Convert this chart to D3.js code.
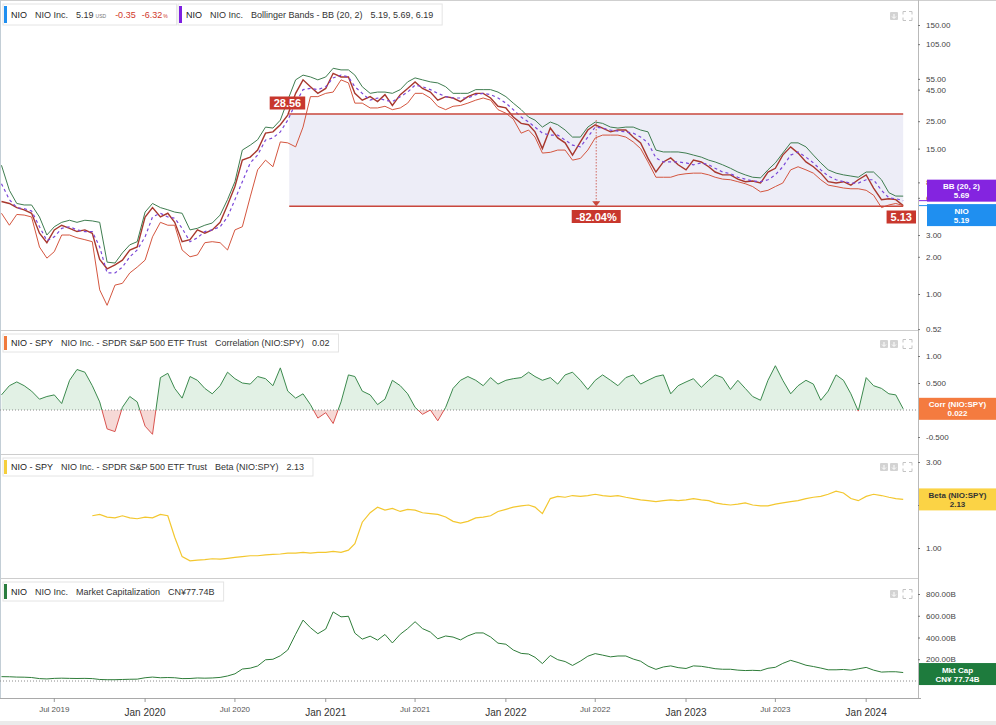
<!DOCTYPE html>
<html><head><meta charset="utf-8">
<script src="https://cdn.jsdelivr.net/npm/d3@7"></script>
<style>
html,body{margin:0;padding:0;background:#fff;}
svg{display:block;font-family:"Liberation Sans",Arial,sans-serif;}
</style></head><body>
<svg id="chart" width="996" height="725"></svg>
<script>
// ---------------- DATA ----------------
const dateStrings = ["2019-03-16",
"2019-04-01","2019-04-16","2019-05-01","2019-05-16","2019-06-01","2019-06-16","2019-07-01","2019-07-16","2019-08-01","2019-08-16","2019-09-01","2019-09-16","2019-10-01","2019-10-16","2019-11-01","2019-11-16","2019-12-01","2019-12-16",
"2020-01-01","2020-01-16","2020-02-01","2020-02-16","2020-03-01","2020-03-16","2020-04-01","2020-04-16","2020-05-01","2020-05-16","2020-06-01","2020-06-16","2020-07-01","2020-07-16","2020-08-01","2020-08-16","2020-09-01","2020-09-16","2020-10-01","2020-10-16","2020-11-01","2020-11-16","2020-12-01","2020-12-16",
"2021-01-01","2021-01-16","2021-02-01","2021-02-16","2021-03-01","2021-03-16","2021-04-01","2021-04-16","2021-05-01","2021-05-16","2021-06-01","2021-06-16","2021-07-01","2021-07-16","2021-08-01","2021-08-16","2021-09-01","2021-09-16","2021-10-01","2021-10-16","2021-11-01","2021-11-16","2021-12-01","2021-12-16",
"2022-01-01","2022-01-16","2022-02-01","2022-02-16","2022-03-01","2022-03-16","2022-04-01","2022-04-16","2022-05-01","2022-05-16","2022-06-01","2022-06-16","2022-07-01","2022-07-16","2022-08-01","2022-08-16","2022-09-01","2022-09-16","2022-10-01","2022-10-16","2022-11-01","2022-11-16","2022-12-01","2022-12-16",
"2023-01-01","2023-01-16","2023-02-01","2023-02-16","2023-03-01","2023-03-16","2023-04-01","2023-04-16","2023-05-01","2023-05-16","2023-06-01","2023-06-16","2023-07-01","2023-07-16","2023-08-01","2023-08-16","2023-09-01","2023-09-16","2023-10-01","2023-10-16","2023-11-01","2023-11-16","2023-12-01","2023-12-16",
"2024-01-01","2024-01-16","2024-02-01","2024-02-16","2024-03-01","2024-03-16"];

const price = [5.6,5.4,5.0,4.8,4.5,3.1,2.6,3.3,3.6,3.4,
3.2,3.3,3.1,1.9,1.6,1.72,1.88,2.27,2.4,4.2,
5.0,4.2,4.5,3.8,2.65,2.75,3.3,3.1,3.3,3.8,
5.25,7.4,12.1,12.8,14.6,20,20.5,23.4,28,42,
54,47.5,42,46,61,57,57,42,37,39.5,
36,41,33.5,41,46,52,46,43,37,39.5,
38.5,36,39.5,42,42,38.5,33,32,27,24,
23.4,20.5,15,22,18.3,16.7,13.3,17,21.2,23.4,
22,20.5,21.2,21.2,18.6,16.7,12.5,9.7,11.7,12.6,
11.1,10.1,12.1,11.7,10.7,9.7,9.2,9.2,8.5,8.1,
8.2,7.9,9.7,10.4,13.3,15.5,13.8,11.7,10.7,9.5,
8.1,7.9,8.1,7.6,8.4,9.2,7.2,5.8,5.9,5.8,
5.19];

const bbUpper = [11.0,6.9,5.4,5.25,5.25,4.2,3.0,3.5,3.8,3.95,
3.8,3.95,3.9,3.8,1.81,1.78,2.15,2.5,2.65,4.6,
5.4,5.0,4.8,4.6,4.5,3.3,3.4,3.6,3.75,4.35,
5.8,8.1,14.6,16.0,17.7,22.4,22,25.5,37,54,
59,57,54,57,67,65,65,59,47.5,42,
43,43,42,45,52,56,54,52,51,47.5,
42,42,42,45,45,45,43,39.5,35,31,
27,25.5,22.4,24.6,23.4,21.2,18.6,18.6,22.4,24.6,
24,22.4,22,22.4,22.4,21.2,20.5,14.6,14.1,14.1,
14.1,13.8,13.3,12.8,12.1,11.7,11.1,10.4,9.7,9.2,
8.8,8.7,10.1,11.5,13.8,16.7,16.7,15.5,13.3,11.5,
10.1,9.5,9.2,9.0,8.8,9.7,9.7,8.4,6.6,6.2,
6.19];

const bbMiddle = [7.8,5.8,5.0,4.9,4.7,3.5,2.7,2.9,3.4,3.5,
3.3,3.2,3.2,2.4,1.48,1.48,1.65,2.0,2.27,2.9,
4.2,4.5,4.2,4.1,3.4,2.65,2.85,3.2,3.3,3.5,
4.2,5.8,8.1,11.5,13.3,17.6,18.3,20.5,25.5,35,
45,46,45,47.5,56,59,57,47.5,42,37,
38.5,37,36,39.5,43,49,47.5,45,42,39.5,
38.5,38.5,38.5,41,42,41,38.5,35,31,27,
24.6,22.4,20,19.3,19.3,17.6,16,15.5,18.6,22.4,
22,21.2,20.8,20.5,20,18.6,16.7,12.6,11.7,11.7,
11.7,11.5,11.1,11.5,11.1,10.4,9.7,9.4,8.8,8.5,
8.2,8.1,8.4,9.2,10.7,13.3,14.1,12.8,11.5,10.1,
9.0,8.4,8.1,7.9,7.9,8.4,8.4,6.9,6.0,5.9,
5.69];

const bbLower = [4.5,3.6,4.4,4.35,4.2,2.4,1.95,2.2,3.0,3.0,
2.85,2.75,2.65,1.08,0.81,1.18,1.22,1.48,1.65,1.88,
2.9,3.8,3.6,3.6,2.27,2.0,2.07,2.6,2.65,2.6,
2.27,3.3,3.5,6.1,10.1,12.1,10.7,17,16.7,15.5,
22.4,39.5,39.5,42,43,54,51,35,35,32,
32,33,31,32,35,42,42,38.5,33,31,
33,33.5,35,37,38.5,37,31,29,26,20,
21.2,18.6,13.8,14,14.6,14.6,12.1,12.5,14.6,18.3,
19.3,19.3,19.3,18.6,17,15,11.7,8.8,8.8,8.8,
9.2,9.4,9.5,9.5,9.2,8.8,8.5,8.4,8.1,7.8,
7.4,6.7,6.9,7.4,7.9,10.1,10.7,10.1,9.5,8.4,
7.6,7.4,7.2,7.1,7.1,6.9,6.3,5.0,5.25,5.4,
5.19];

const corr = [0.28,0.45,0.52,0.45,0.35,0.20,0.25,0.28,0.12,0.55,
0.75,0.70,0.45,0.15,-0.35,-0.40,0.05,0.25,0.15,-0.30,
-0.45,0.60,0.68,0.40,0.22,0.62,0.55,0.40,0.30,0.45,
0.70,0.58,0.50,0.48,0.62,0.58,0.45,0.78,0.35,0.22,
0.30,0.10,-0.15,-0.05,-0.25,0.15,0.65,0.62,0.35,0.28,
0.10,0.20,0.55,0.45,0.30,0.05,-0.08,0.00,-0.20,0.05,
0.40,0.55,0.62,0.55,0.45,0.60,0.48,0.55,0.58,0.60,
0.70,0.62,0.55,0.60,0.48,0.65,0.70,0.55,0.38,0.55,
0.65,0.55,0.45,0.60,0.65,0.48,0.55,0.62,0.65,0.30,
0.45,0.52,0.58,0.42,0.55,0.65,0.60,0.38,0.55,0.40,
0.25,0.18,0.55,0.82,0.55,0.30,0.45,0.55,0.48,0.18,
0.35,0.65,0.55,0.30,-0.02,0.60,0.45,0.40,0.30,0.28,
0.022];

const beta = [null,null,null,null,null,null,null,null,null,null,
null,null,1.75,1.78,1.72,1.70,1.75,1.70,1.68,1.72,
1.70,1.78,1.75,1.25,0.80,0.70,0.72,0.73,0.75,0.74,
0.76,0.78,0.80,0.82,0.82,0.84,0.85,0.86,0.88,0.88,
0.90,0.88,0.90,0.90,0.92,0.90,0.95,1.10,1.60,1.82,
1.95,1.88,1.92,1.85,1.90,1.88,1.82,1.80,1.78,1.72,
1.62,1.58,1.62,1.70,1.72,1.75,1.85,1.90,1.95,1.98,
2.00,1.95,1.80,2.15,2.20,2.18,2.22,2.20,2.22,2.25,
2.22,2.20,2.22,2.18,2.15,2.12,2.10,2.08,2.10,2.12,
2.10,2.12,2.15,2.12,2.10,2.05,2.02,2.00,2.02,2.05,
2.00,1.98,1.98,2.02,2.05,2.08,2.10,2.15,2.18,2.20,
2.25,2.32,2.28,2.15,2.10,2.20,2.25,2.22,2.18,2.15,
2.13];

const mktCap = [40,39,36,35,32,22,19,24,26,24,
23,24,22,14,12,12,14,16,17,30,
36,30,32,30,22,23,28,26,28,33,
46,66,110,118,138,195,200,232,285,430,
560,490,435,478,635,590,595,440,385,412,
376,428,350,430,482,545,482,450,388,414,
404,378,415,442,442,405,348,338,285,254,
248,218,160,235,196,179,143,183,228,252,
238,222,230,230,202,182,137,107,129,139,
123,115,139,135,124,113,108,108,100,96,
98,95,117,126,162,190,170,145,133,119,
103,103,106,100,112,125,100,82,85,85,
77.74];

const priceTicks = [150,105,55,45,25,15,8,6,3,2,1,0.52];
const priceTickLabels = ["150.00","105.00","55.00","45.00","25.00","15.00","8.00","6.00","3.00","2.00","1.00","0.52"];
const corrTicks = [1,0.5,-0.5];
const corrTickLabels = ["1.00","0.500","-0.500"];
const betaTicks = [3,2,1];
const betaTickLabels = ["3.00","2.00","1.00"];
const capTicks = [800,600,400,200];
const capTickLabels = ["800.00B","600.00B","400.00B","200.00B"];
const xTickDates = ["2019-07-01","2020-01-01","2020-07-01","2021-01-01","2021-07-01","2022-01-01","2022-07-01","2023-01-01","2023-07-01","2024-01-01"];

const rangeStart = "2020-10-19", rangeEnd = "2024-03-16";
const rangeHigh = 28.56, rangeLow = 5.13, rangeChange = "-82.04%";

// ---------------- CHART ----------------
const parse = d3.timeParse("%Y-%m-%d");
const dates = dateStrings.map(parse);
const plotR = 918;
const svg = d3.select("#chart");
const x = d3.scaleTime().domain([parse("2019-03-13"), parse("2024-04-15")]).range([0, plotR]);

const yPrice = d3.scaleLog().domain([1,150]).range([294,25]);
const yCorr = d3.scaleLinear().domain([-0.5,1]).range([437,356]);
const yBeta = d3.scaleLinear().domain([1,3]).range([548,462]);
const yCap = d3.scaleLinear().domain([0,800]).range([681,594]);

const panels = [{id:"p1",y0:0,y1:330},{id:"p2",y0:331,y1:454},{id:"p3",y0:455,y1:578},{id:"p4",y0:579,y1:698}];
const defs = svg.append("defs");
panels.forEach(p => defs.append("clipPath").attr("id","clip-"+p.id).append("rect")
  .attr("x",0).attr("y",p.y0).attr("width",plotR).attr("height",p.y1-p.y0));
defs.append("clipPath").attr("id","clip-pos").append("rect").attr("x",0).attr("y",331).attr("width",plotR).attr("height",yCorr(0)-331);
defs.append("clipPath").attr("id","clip-neg").append("rect").attr("x",0).attr("y",yCorr(0)).attr("width",plotR).attr("height",454-yCorr(0));

svg.append("rect").attr("width",996).attr("height",725).attr("fill","#fff");

// frame
svg.append("line").attr("x1",0).attr("x2",996).attr("y1",0.5).attr("y2",0.5).attr("stroke","#cfcfcf");
[330.5,454.5,578.5].forEach(y=>svg.append("line").attr("x1",0).attr("x2",plotR).attr("y1",y).attr("y2",y).attr("stroke","#cdcdcd"));
svg.append("line").attr("x1",0.5).attr("x2",0.5).attr("y1",0).attr("y2",698).attr("stroke","#c3ced6");
svg.append("line").attr("x1",plotR+0.5).attr("x2",plotR+0.5).attr("y1",0).attr("y2",698).attr("stroke","#b9b9b9");
svg.append("rect").attr("x",0).attr("y",721).attr("width",996).attr("height",4).attr("fill","#ebebeb");

const lineOf = (ys) => d3.line().defined(d => d != null).x((d,i) => x(dates[i])).y(d => ys(d));

// ---- Panel 1: price + Bollinger ----
const g1 = svg.append("g").attr("clip-path","url(#clip-p1)");
const rx0 = x(parse(rangeStart)), rx1 = x(parse(rangeEnd));
g1.append("rect").attr("x",rx0).attr("y",yPrice(rangeHigh)).attr("width",rx1-rx0)
  .attr("height",yPrice(rangeLow)-yPrice(rangeHigh)).attr("fill","#ededf7");
g1.append("path").datum(price).attr("d",lineOf(yPrice)).attr("fill","none").attr("stroke","#a8382e").attr("stroke-width",1.4);
g1.append("path").datum(bbUpper).attr("d",lineOf(yPrice)).attr("fill","none").attr("stroke","#3f7d50").attr("stroke-width",1);
g1.append("path").datum(bbLower).attr("d",lineOf(yPrice)).attr("fill","none").attr("stroke","#d4563f").attr("stroke-width",1);
g1.append("path").datum(bbMiddle).attr("d",lineOf(yPrice)).attr("fill","none").attr("stroke","#7b48d8").attr("stroke-width",1.2).attr("stroke-dasharray","3,3");

const red = "#c8372d";
[rangeHigh, rangeLow].forEach(v => g1.append("line").attr("x1",rx0).attr("x2",rx1)
  .attr("y1",yPrice(v)).attr("y2",yPrice(v)).attr("stroke","#c9473c").attr("stroke-width",1.5));
const mx = (rx0+rx1)/2;
g1.append("line").attr("x1",mx).attr("x2",mx).attr("y1",yPrice(rangeHigh)+6).attr("y2",yPrice(rangeLow)-4)
  .attr("stroke","#d0685f").attr("stroke-width",1).attr("stroke-dasharray","1.5,1.5");
g1.append("path").attr("d",`M${mx-4},${yPrice(rangeLow)-5}L${mx+4},${yPrice(rangeLow)-5}L${mx},${yPrice(rangeLow)}Z`).attr("fill","#c9473c");

function redLabel(cx, cy, txt, anchorRight){
  const t = svg.append("text").attr("font-size",11).attr("font-weight","bold").attr("fill","#fff").text(txt);
  const w = t.node().getComputedTextLength() + 8;
  const left = anchorRight ? cx - w : cx - w/2;
  svg.insert("rect", () => t.node()).attr("x",left).attr("y",cy-6.5).attr("width",w).attr("height",13).attr("fill",red);
  t.attr("x",left+w/2).attr("y",cy+4).attr("text-anchor","middle");
}
redLabel(rx0+16, 103, rangeHigh.toFixed(2), true);
redLabel(mx, 216.5, rangeChange, false);
redLabel(plotR-2, 217, rangeLow.toFixed(2), true);

// ---- Panel 2: correlation ----
const areaCorr = d3.area().x((d,i)=>x(dates[i])).y0(yCorr(0)).y1(d=>yCorr(d));
const g2 = svg.append("g").attr("clip-path","url(#clip-p2)");
g2.append("path").datum(corr).attr("d",areaCorr).attr("fill","#e2f1e5").attr("clip-path","url(#clip-pos)");
g2.append("path").datum(corr).attr("d",areaCorr).attr("fill","#f6d9d6").attr("clip-path","url(#clip-neg)");
g2.append("line").attr("x1",0).attr("x2",plotR).attr("y1",yCorr(0)).attr("y2",yCorr(0)).attr("stroke","#8a8a8a").attr("stroke-dasharray","1,2");
g2.append("path").datum(corr).attr("d",lineOf(yCorr)).attr("fill","none").attr("stroke","#3c8a4e").attr("stroke-width",1).attr("clip-path","url(#clip-pos)");
g2.append("path").datum(corr).attr("d",lineOf(yCorr)).attr("fill","none").attr("stroke","#d9534f").attr("stroke-width",1).attr("clip-path","url(#clip-neg)");

// ---- Panel 3: beta ----
const g3 = svg.append("g").attr("clip-path","url(#clip-p3)");
g3.append("path").datum(beta).attr("d",lineOf(yBeta)).attr("fill","none").attr("stroke","#f3c72f").attr("stroke-width",1.2);

// ---- Panel 4: market cap ----
const g4 = svg.append("g").attr("clip-path","url(#clip-p4)");
g4.append("line").attr("x1",0).attr("x2",plotR).attr("y1",yCap(0)).attr("y2",yCap(0)).attr("stroke","#8a8a8a").attr("stroke-dasharray","1,2");
g4.append("path").datum(mktCap).attr("d",lineOf(yCap)).attr("fill","none").attr("stroke","#2f7d3a").attr("stroke-width",1);

// ---- Right axes ----
function rightAxis(scale, ticks, labels){
  const ax = d3.axisRight(scale).tickValues(ticks).tickSize(2).tickPadding(6)
    .tickFormat((d,i)=>labels[i]);
  const g = svg.append("g").attr("transform",`translate(${plotR},0)`).call(ax);
  g.select(".domain").remove();
  g.selectAll("line").attr("stroke","#777");
  g.selectAll("text").attr("font-size",8).attr("fill","#444").attr("font-family","Liberation Sans, Arial, sans-serif");
}
rightAxis(yPrice, priceTicks, priceTickLabels);
rightAxis(yCorr, corrTicks, corrTickLabels);
rightAxis(yBeta, betaTicks, betaTickLabels);
rightAxis(yCap, capTicks, capTickLabels);

// ---- Bottom time axis ----
const xAx = svg.append("g");
xAx.append("line").attr("x1",0).attr("x2",plotR+3).attr("y1",698.5).attr("y2",698.5).attr("stroke","#a9a9a9");
xTickDates.forEach(s=>{
  const d = parse(s), px = x(d), isJan = d.getMonth()===0;
  xAx.append("line").attr("x1",px).attr("x2",px).attr("y1",698).attr("y2",702).attr("stroke","#999");
  xAx.append("text").attr("x",px).attr("y",isJan?716:712).attr("text-anchor","middle")
    .attr("font-size",isJan?10:8).attr("fill",isJan?"#333":"#555").text(d3.timeFormat("%b %Y")(d));
});

// ---- Value labels on right axis ----
function valueBox(top, left, fill, color, l1, l2, yVal){
  svg.append("line").attr("x1",plotR+1).attr("x2",left).attr("y1",yVal).attr("y2",yVal).attr("stroke",fill);
  svg.append("rect").attr("x",left).attr("y",top).attr("width",996-left).attr("height",22).attr("fill",fill);
  const cx = left + (996-left)/2;
  svg.append("text").attr("x",cx).attr("y",top+9.5).attr("text-anchor","middle").attr("font-size",8).attr("font-weight","bold").attr("fill",color).text(l1);
  svg.append("text").attr("x",cx).attr("y",top+18.5).attr("text-anchor","middle").attr("font-size",8).attr("font-weight","bold").attr("fill",color).text(l2);
}
const bbMid = bbMiddle[bbMiddle.length-1], lastP = price[price.length-1];
valueBox(yPrice(bbMid)-21, 927, "#8424e0", "#fff", "BB (20, 2)", bbMid.toFixed(2), yPrice(bbMid));
valueBox(yPrice(lastP)-1.5, 927, "#1f8ff0", "#fff", "NIO", lastP.toFixed(2), yPrice(lastP));
const lastC = corr[corr.length-1], lastB = beta[beta.length-1], lastM = mktCap[mktCap.length-1];
valueBox(yCorr(lastC)-11, 919, "#f47b3f", "#fff", "Corr (NIO:SPY)", lastC.toFixed(3), yCorr(lastC));
valueBox(yBeta(lastB)-11, 919, "#fbd345", "#333", "Beta (NIO:SPY)", lastB.toFixed(2), yBeta(lastB));
valueBox(yCap(lastM)-9.5, 919, "#1e7b3d", "#fff", "Mkt Cap", "CN¥ " + lastM.toFixed(2) + "B", yCap(lastM));

// ---- Legends ----
function legend(x0, top, h, barColor, items){
  const g = svg.append("g");
  const box = g.append("rect").attr("x",x0).attr("y",top).attr("height",h).attr("fill","#fff").attr("stroke","#e4e4e4");
  g.append("rect").attr("x",x0+1).attr("y",top+2).attr("width",3).attr("height",h-4).attr("fill",barColor);
  let cx = x0 + 8;
  const base = top + h/2 + 3.3;
  items.forEach((it,i)=>{
    if(i>0) cx += (it.gap!=null ? it.gap : 8);
    const t = g.append("text").attr("x",cx).attr("y",base).attr("font-size",it.size||9)
      .attr("fill",it.fill||"#333").text(it.t);
    cx += t.node().getComputedTextLength();
  });
  box.attr("width", cx + 9 - x0);
}
const redTxt = "#d0382b";
legend(3, 4, 21, "#1f8ff0", [{t:"NIO",fill:"#222"},{t:"NIO Inc."},{t:price[price.length-1].toFixed(2)},{t:"USD",size:5,gap:2,fill:"#777"},{t:"-0.35",fill:redTxt,gap:9},{t:"-6.32",fill:redTxt,gap:6},{t:"%",size:5,gap:1,fill:redTxt}]);
legend(178, 4, 21, "#7d1fe0", [{t:"NIO",fill:"#222"},{t:"NIO Inc."},{t:"Bollinger Bands - BB (20, 2)"},{t:`${bbLower[120].toFixed(2)}, ${bbMiddle[120].toFixed(2)}, ${bbUpper[120].toFixed(2)}`}]);
legend(3, 334, 18, "#f07a3c", [{t:"NIO - SPY",fill:"#222"},{t:"NIO Inc. - SPDR S&P 500 ETF Trust"},{t:"Correlation (NIO:SPY)"},{t:lastC.toFixed(2)}]);
legend(3, 458, 18, "#f5cf3c", [{t:"NIO - SPY",fill:"#222"},{t:"NIO Inc. - SPDR S&P 500 ETF Trust"},{t:"Beta (NIO:SPY)"},{t:lastB.toFixed(2)}]);
legend(3, 582, 19, "#2a7d3f", [{t:"NIO",fill:"#222"},{t:"NIO Inc."},{t:"Market Capitalization"},{t:"CN¥" + lastM.toFixed(2) + "B"}]);

// ---- panel icons ----
function iconBtn(px, py){
  svg.append("rect").attr("x",px).attr("y",py).attr("width",8).attr("height",8).attr("rx",1).attr("fill","#d3d3d3");
  svg.append("path").attr("d",`M${px+4},${py+2}V${py+6}M${px+2},${py+4.5}L${px+4},${py+6.5}L${px+6},${py+4.5}`).attr("stroke","#fff").attr("fill","none").attr("stroke-width",1);
}
function fullBtn(px, py){
  svg.append("path").attr("d",`M${px},${py+3}V${py}H${px+3}M${px+6},${py}H${px+9}V${py+3}M${px+9},${py+6}V${py+9}H${px+6}M${px+3},${py+9}H${px}V${py+6}`)
    .attr("stroke","#c4c4c4").attr("fill","none").attr("stroke-width",1);
}
iconBtn(890,12); fullBtn(903,11.5);
iconBtn(880,340); iconBtn(890,340); fullBtn(903,339.5);
iconBtn(880,463); iconBtn(890,463); fullBtn(903,462.5);
iconBtn(890,590); fullBtn(903,589.5);
</script>
</body></html>
